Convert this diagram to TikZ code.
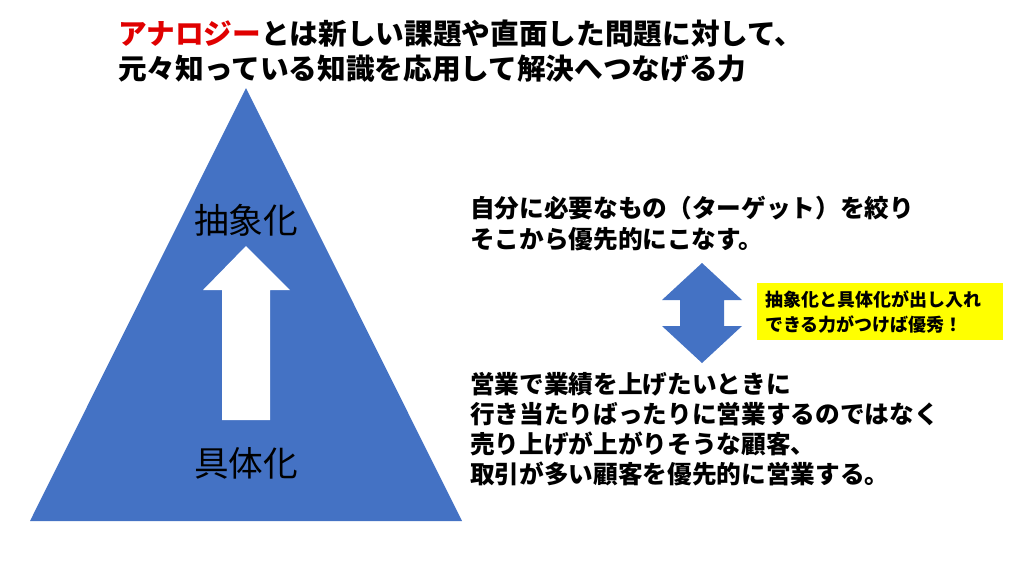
\documentclass[tikz,border=0pt]{standalone}
\usepackage{fontspec}
\setmainfont{Noto Sans CJK JP}
\usetikzlibrary{positioning}
\definecolor{triblue}{HTML}{4472C4}
\definecolor{titlered}{HTML}{E00000}
\definecolor{memo}{HTML}{FFFF00}
\tikzstyle{line} = [anchor=west, font=\fontsize{18.5pt}{22pt}\selectfont\bfseries, inner sep=0pt]
\tikzstyle{title} = [anchor=west, font=\fontsize{21.5pt}{26pt}\selectfont\bfseries, inner sep=0pt]
\tikzstyle{level} = [font=\fontsize{26pt}{30pt}\selectfont, inner sep=0pt]
\begin{document}
\begin{tikzpicture}[x=0.75pt, y=-0.75pt]
        \useasboundingbox [fill=white] (0,0) rectangle (1024,576);
        % Pyramid and arrow
        \fill [triblue] (246,88) -- (462,521) -- (30,521) -- cycle;
        \fill [white] (222,420) -- (270,420) -- (270,290) -- (290,290) -- (246,246) -- (203,290) -- (222,290) -- cycle;
        \node [level] (abs) at (246,220) {抽象化};
        \node [level] (con) at (246,463) {具体化};
        % Title
        \node [title] (t1) at (118,34) {\textcolor{titlered}{アナロジー}とは新しい課題や直面した問題に対して、};
        \node [title] (t2) at (118,69) {元々知っている知識を応用して解決へつなげる力};
        % Right texts
        \node [line] (a1) at (470,208) {自分に必要なもの（ターゲット）を絞り};
        \node [line] (a2) at (470,239) {そこから優先的にこなす。};
        \node [line] (b1) at (470,384) {営業で業績を上げたいときに};
        \node [line] (b2) at (470,414) {行き当たりばったりに営業するのではなく};
        \node [line] (b3) at (470,444) {売り上げが上がりそうな顧客、};
        \node [line] (b4) at (470,474) {取引が多い顧客を優先的に営業する。};
        % Double arrow
        \fill [triblue] (702,263) -- (742,300) -- (724,300) -- (724,326) -- (742,326) -- (702,363) -- (662,326) -- (680,326) -- (680,300) -- (662,300) -- cycle;
        \fill [memo] (757,283) rectangle (1003,340);
        \node [align=left, anchor=west, font=\fontsize{13.5pt}{19pt}\selectfont\bfseries, inner sep=0pt] (memo) at (765,312)
               {抽象化と具体化が出し入れ\\できる力がつけば優秀！};
\end{tikzpicture}
\end{document}
